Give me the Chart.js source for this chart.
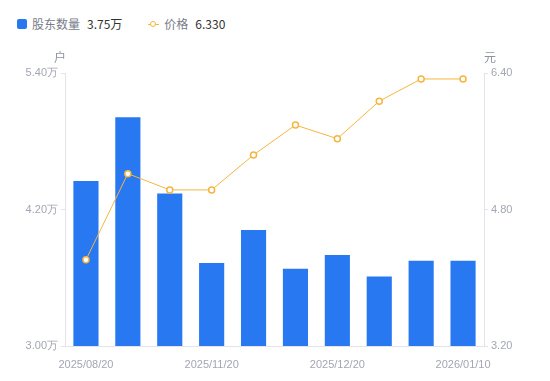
<!DOCTYPE html>
<html>
<head>
<meta charset="utf-8">
<script src="https://cdn.jsdelivr.net/npm/chart.js@4.4.1/dist/chart.umd.min.js"></script>
<style>
  html, body { margin: 0; padding: 0; background: #fff; }
  body { width: 550px; height: 381px; position: relative; overflow: hidden;
         font-family: "Noto Sans CJK SC", "Noto Sans", sans-serif; }
  #legend { position: absolute; left: 17px; top: 14px; font-size: 12px; line-height: 20px;
            display: flex; align-items: center; }
  .item { display: flex; align-items: center; margin-right: 26px; }
  .sq { width: 10px; height: 10px; background: #2878f2; border-radius: 2px; margin-right: 5px; }
  .ln { position: relative; width: 11px; height: 10px; margin-right: 5px; }
  .ln:before { content: ""; position: absolute; left: 0; right: 0; top: 5px; height: 1px; background: #f5b540; }
  .ln:after { content: ""; position: absolute; left: 2px; top: 2px; width: 4px; height: 4px;
              border: 1.5px solid #f5b540; border-radius: 50%; background: #fff; }
  .name { color: #777c88; margin-right: 7px; }
  .val { color: #333; }
  canvas { position: absolute; left: 0; top: 0; }
</style>
</head>
<body>
<div id="legend">
  <div class="item"><span class="sq"></span><span class="name">股东数量</span><span class="val">3.75万</span></div>
  <div class="item"><span class="ln"></span><span class="name">价格</span><span class="val">6.330</span></div>
</div>
<canvas id="c" width="550" height="381"></canvas>
<script>
var dates = ["2025/08/20", "2025/09/10", "2025/10/31", "2025/11/20", "2025/11/30",
             "2025/12/10", "2025/12/20", "2025/12/31", "2026/01/05", "2026/01/10"];
var holders = [4.45, 5.01, 4.34, 3.73, 4.02, 3.68, 3.80, 3.61, 3.75, 3.75];
var prices = [4.21, 5.22, 5.03, 5.03, 5.44, 5.79, 5.63, 6.07, 6.33, 6.33];
var leftTicks = [3.00, 4.20, 5.40];
var rightTicks = [3.20, 4.80, 6.40];
var shownLabels = [0, 3, 6, 9];

var gray = "#a3a6b4";
var axisLine = "#e3e4e8";

var unitPlugin = {
    id: "units",
    afterDraw: function (chart) {
        var ctx = chart.ctx, a = chart.chartArea;
        ctx.save();
        ctx.font = "12px 'Noto Sans CJK SC'";
        ctx.fillStyle = "#8f93a0";
        ctx.textAlign = "center";
        ctx.textBaseline = "middle";
        ctx.fillText("户", a.left - 5, a.top - 16);
        ctx.fillText("元", a.right + 6, a.top - 16);
        ctx.restore();
    }
};

new Chart(document.getElementById("c").getContext("2d"), {
    type: "bar",
    data: {
        labels: dates,
        datasets: [
            {
                type: "line",
                label: "价格",
                data: prices,
                yAxisID: "y1",
                borderColor: "#f5b540",
                borderWidth: 1,
                pointRadius: 3,
                pointBorderWidth: 1.5,
                pointBackgroundColor: "#fff",
                pointBorderColor: "#f5b540",
                tension: 0,
                order: 0
            },
            {
                label: "股东数量",
                data: holders,
                yAxisID: "y",
                backgroundColor: "#2878f2",
                barPercentage: 0.6,
                categoryPercentage: 1,
                order: 1
            }
        ]
    },
    options: {
        responsive: false,
        animation: false,
        layout: { padding: { top: 73, left: 0, right: 0, bottom: 0 } },
        plugins: { legend: { display: false }, tooltip: { enabled: false } },
        scales: {
            x: {
                grid: { display: false },
                border: { color: axisLine },
                ticks: {
                    autoSkip: false, maxRotation: 0, color: gray, padding: 4,
                    font: { size: 11, family: "'Liberation Sans', Arial" },
                    callback: function (v, i) { return shownLabels.indexOf(i) >= 0 ? dates[i] : ""; }
                },
                afterFit: function (s) { s.height = 35; }
            },
            y: {
                position: "left",
                min: 3.0, max: 5.4,
                afterBuildTicks: function (s) { s.ticks = leftTicks.map(function (v) { return { value: v }; }); },
                grid: { drawOnChartArea: false, drawTicks: true, tickLength: 4, color: axisLine },
                border: { color: axisLine },
                ticks: {
                    color: gray, padding: 3,
                    font: { size: 11, family: "'Liberation Sans', Arial" },
                    callback: function (v) { return v.toFixed(2) + "万"; }
                },
                afterFit: function (s) { s.width = 65; }
            },
            y1: {
                position: "right",
                min: 3.2, max: 6.4,
                afterBuildTicks: function (s) { s.ticks = rightTicks.map(function (v) { return { value: v }; }); },
                grid: { drawOnChartArea: false, drawTicks: true, tickLength: 4, color: axisLine },
                border: { color: axisLine },
                ticks: {
                    color: gray, padding: 3,
                    font: { size: 11, family: "'Liberation Sans', Arial" },
                    callback: function (v) { return v.toFixed(2); }
                },
                afterFit: function (s) { s.width = 66; }
            }
        }
    },
    plugins: [unitPlugin]
});
</script>
</body>
</html>
